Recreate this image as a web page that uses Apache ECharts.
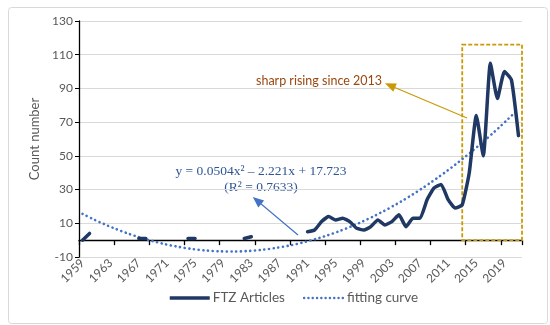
<!DOCTYPE html>
<html><head><meta charset="utf-8">
<script src="https://cdn.jsdelivr.net/npm/echarts@6/dist/echarts.min.js"></script>
<style>html,body{margin:0;padding:0;background:#fff}#c{width:550px;height:325px}</style>
</head><body><div id="c"></div>
<script>
const years = [];
for (let y = 1959; y <= 2021; y++) years.push(String(y));

// FTZ Articles (null = no data / gap)
const ftzArticles = [
  0, 4, null, null, null, null, null, null, 1, 1,           // 1959-1968
  null, null, null, null, null, 1, 1, null, null, null,     // 1969-1978
  null, null, null, 1, 2, null, null, null, null, null,     // 1979-1988
  null, null, 5, 6, 11, 14, 12, 13, 11, 7,                  // 1989-1998
  6, 8, 12, 9, 11, 15, 8, 13, 13, 24,                       // 1999-2008
  31, 33, 24, 19, 21, 40, 74, 50, 105, 84,                  // 2009-2018
  100, 95, 62                                               // 2019-2021
];

// fitting curve values
const fittingCurve = [
  15.55, 13.48, 11.51, 9.65, 7.88, 6.21, 4.65, 3.18, 1.82, 0.55,
  -0.61, -1.67, -2.63, -3.49, -4.25, -4.91, -5.47, -5.93, -6.28, -6.54,
  -6.69, -6.75, -6.70, -6.55, -6.30, -5.95, -5.50, -4.95, -4.30, -3.55,
  -2.69, -1.74, -0.68, 0.47, 1.73, 3.09, 4.54, 6.10, 7.76, 9.52,
  11.38, 13.35, 15.41, 17.57, 19.84, 22.20, 24.67, 27.24, 29.90, 32.67,
  35.54, 38.51, 41.58, 44.76, 48.03, 51.40, 54.88, 58.45, 62.13, 65.90,
  69.78, 73.76, 77.84
];

const yTicks = { min: -10, max: 130, interval: 20 };
const seriesNames = ['FTZ Articles', 'fitting curve'];
const equationText = ['y = 0.0504x\u00B2 \u2013 2.221x + 17.723', '(R\u00B2 = 0.7633)'];
const highlightText = 'sharp rising since 2013';
const highlightStart = '2013';

const chart = echarts.init(document.getElementById('c'));
const gray = '#595959';
const navy = '#203864';
const blue = '#4472C4';
chart.setOption({
  animation: false,
  textStyle: { fontFamily: 'Lato' },
  grid: { left: 79, right: 28, top: 21, bottom: 68, containLabel: false },
  legend: {
    bottom: 15, left: 163, itemWidth: 40, itemHeight: 6, itemGap: 18,
    textStyle: { color: gray, fontSize: 13.5, fontFamily: 'Lato', padding: [0, 0, 0, -2] },
    itemStyle: { opacity: 0 },
    data: [
      { name: seriesNames[0], lineStyle: { color: navy, width: 3.5, type: 'solid', cap: 'butt' } },
      { name: seriesNames[1], lineStyle: { color: blue, width: 2.4, type: [0.1, 4.2], cap: 'round' } }
    ]
  },
  xAxis: [{
    type: 'category', data: years, boundaryGap: true, position: 'bottom',
    axisLine: { onZero: true, lineStyle: { color: '#000', width: 1.3 } },
    axisTick: { show: true, interval: 4, length: 5, inside: false, lineStyle: { color: '#000', width: 1.3 } },
    axisLabel: { show: false }, splitLine: { show: false }
  }, {
    type: 'category', data: years, boundaryGap: true, position: 'bottom',
    axisLine: { show: false, onZero: false }, axisTick: { show: false },
    axisLabel: { interval: 3, rotate: 45, color: gray, fontSize: 12, margin: 4, fontFamily: 'Lato' },
    splitLine: { show: false }
  }],
  yAxis: {
    type: 'value', min: yTicks.min, max: yTicks.max, interval: yTicks.interval,
    name: 'Count number', nameLocation: 'middle', nameGap: 38,
    nameTextStyle: { color: gray, fontSize: 13, fontFamily: 'Lato' },
    axisLine: { show: true, onZero: false, lineStyle: { color: '#000', width: 1.3 } },
    axisTick: { show: true, length: 4, lineStyle: { color: '#000' } },
    axisLabel: { color: gray, fontSize: 12, margin: 6, fontFamily: 'Lato' },
    splitLine: { lineStyle: { color: '#D9D9D9', width: 1 } }
  },
  series: [{
    name: seriesNames[0], type: 'line', data: ftzArticles, xAxisIndex: 0,
    smooth: 0.15, connectNulls: false, symbol: 'none', z: 3,
    lineStyle: { color: navy, width: 3.5, cap: 'round', join: 'round' },
    itemStyle: { color: navy },
    markArea: {
      silent: true,
      itemStyle: { color: 'rgba(0,0,0,0)', borderColor: '#C99A06', borderWidth: 1.8, borderType: [4, 2] },
      data: [[{ xAxis: highlightStart, yAxis: 116 }, { x: 522, yAxis: 0 }]]
    },
    markLine: {
      silent: true, symbol: ['none', 'triangle'], symbolSize: [9, 11], label: { show: false },
      data: [
        [{ x: 467, y: 118, lineStyle: { color: '#C99A06', width: 1.2, type: 'solid' } }, { x: 390, y: 85.5 }],
        [{ x: 298, y: 235, lineStyle: { color: blue, width: 1.2, type: 'solid' } }, { x: 257, y: 200.5 }]
      ]
    }
  }, {
    name: seriesNames[1], type: 'line', data: fittingCurve, xAxisIndex: 0,
    smooth: true, symbol: 'none', z: 2,
    lineStyle: { color: blue, width: 2.6, type: [0.1, 4.6], cap: 'round' },
    itemStyle: { color: blue }
  }],
  graphic: [
    { type: 'rect', left: 6, top: 5, shape: { width: 539, height: 316, r: 3 }, style: { fill: 'none', stroke: '#D9D9D9', lineWidth: 1 }, silent: true },
    { type: 'text', x: 261, y: 171, style: { text: equationText[0], fill: '#2F5597', font: '13.5px "Liberation Serif"', align: 'center', verticalAlign: 'middle' } },
    { type: 'text', x: 261, y: 187, style: { text: equationText[1], fill: '#2F5597', font: '13.5px "Liberation Serif"', align: 'center', verticalAlign: 'middle' } },
    { type: 'text', x: 256, y: 81, style: { text: highlightText, fill: '#9A470F', font: '12.5px Lato', align: 'left', verticalAlign: 'middle' } }
  ]
});
</script></body></html>
